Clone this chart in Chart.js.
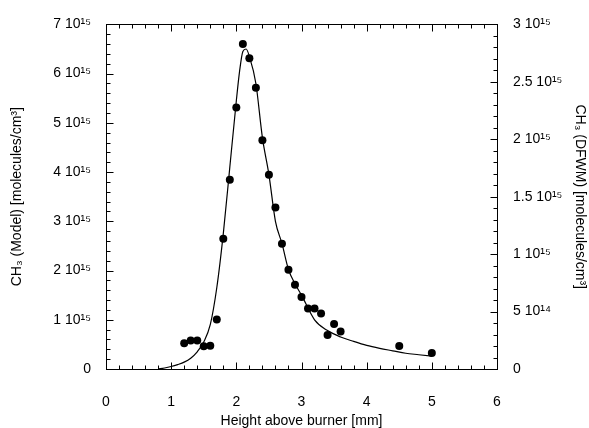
<!DOCTYPE html>
<html>
<head>
<meta charset="utf-8">
<script src="https://cdn.jsdelivr.net/npm/chart.js@4.4.1/dist/chart.umd.min.js"></script>
<style>
  body { margin: 0; background: #fff; }
  canvas { display: block; }
</style>
</head>
<body>
<canvas id="chartCH3" width="589" height="428"></canvas>
<script>
// valores em unidades de 1e15 moleculas/cm3

// curva do modelo (eixo esquerdo)
const alturaModelo = [0.8, 0.9, 1.0, 1.1, 1.2, 1.3, 1.4, 1.5, 1.6, 1.7, 1.8, 1.9, 2.0, 2.05, 2.1, 2.15, 2.2, 2.3, 2.4, 2.5, 2.6, 2.7, 2.8, 2.9, 3.0, 3.2, 3.4, 3.6, 3.8, 4.0, 4.2, 4.4, 4.6, 4.8, 5.0];
const ch3Modelo = [0.0, 0.02, 0.05, 0.09, 0.14, 0.22, 0.35, 0.55, 0.9, 1.65, 2.75, 4.1, 5.45, 6.05, 6.45, 6.5, 6.35, 5.8, 4.7, 3.95, 3.0, 2.55, 2.02, 1.73, 1.5, 1.0, 0.78, 0.65, 0.56, 0.48, 0.42, 0.37, 0.32, 0.29, 0.26];

// medidas DFWM (eixo direito)
const alturaDFWM = [1.2, 1.3, 1.4, 1.5, 1.6, 1.7, 1.8, 1.9, 2.0, 2.1, 2.2, 2.3, 2.4, 2.5, 2.6, 2.7, 2.8, 2.9, 3.0, 3.1, 3.2, 3.3, 3.4, 3.5, 3.6, 4.5, 5.0];
const ch3DFWM = [0.225, 0.249, 0.249, 0.197, 0.203, 0.431, 1.134, 1.648, 2.277, 2.829, 2.706, 2.449, 1.991, 1.691, 1.406, 1.091, 0.863, 0.734, 0.626, 0.526, 0.526, 0.483, 0.297, 0.392, 0.326, 0.2, 0.14];

// rotulos dos eixos
const rotulosX = ['0', '1', '2', '3', '4', '5', '6'];
const rotulosEsq = ['0', '1 10¹⁵', '2 10¹⁵', '3 10¹⁵', '4 10¹⁵', '5 10¹⁵', '6 10¹⁵', '7 10¹⁵'];
const rotulosDir = ['0', '5 10¹⁴', '1 10¹⁵', '1.5 10¹⁵', '2 10¹⁵', '2.5 10¹⁵', '3 10¹⁵'];

const FONTE = { family: "'Liberation Sans', Arial, sans-serif", size: 14 };
const FONTE_TITULO = { family: "'Liberation Sans', Arial, sans-serif", size: 14, lineHeight: 1 };

// moldura + marcas de escala voltadas para dentro
const marcasInternas = {
    id: 'marcasInternas',
    afterDraw(chart) {
        const { ctx, chartArea: a, scales } = chart;
        ctx.save();
        ctx.strokeStyle = '#000';
        ctx.lineWidth = 1;
        const seg = (x1, y1, x2, y2) => {
            ctx.beginPath();
            ctx.moveTo(x1, y1);
            ctx.lineTo(x2, y2);
            ctx.stroke();
        };
        const L = Math.round(a.left) + 0.5, R = Math.round(a.right) + 0.5;
        const T = Math.round(a.top) + 0.5, B = Math.round(a.bottom) + 0.5;
        ctx.strokeRect(L, T, R - L, B - T);

        for (let i = 0; i <= 30; i++) {
            const px = Math.round(scales.x.getPixelForValue(i * 0.2)) + 0.5;
            const len = i % 5 === 0 ? 7 : 4;
            seg(px, B, px, B - len);
            seg(px, T, px, T + len);
        }
        for (let i = 0; i <= 35; i++) {
            const py = Math.round(scales.y.getPixelForValue(i * 0.2)) + 0.5;
            seg(L, py, L + (i % 5 === 0 ? 7 : 4), py);
        }
        for (let i = 0; i <= 30; i++) {
            const py = Math.round(scales.y2.getPixelForValue(i * 0.1)) + 0.5;
            seg(R, py, R - (i % 5 === 0 ? 7 : 4), py);
        }
        ctx.restore();
    }
};

const ctx = document.getElementById('chartCH3').getContext('2d');
new Chart(ctx, {
    type: 'scatter',
    data: {
        datasets: [
            {
                label: 'Model',
                data: alturaModelo.map((x, i) => ({ x: x, y: ch3Modelo[i] })),
                yAxisID: 'y',
                showLine: true,
                borderColor: '#000',
                borderWidth: 1.2,
                pointRadius: 0,
                cubicInterpolationMode: 'monotone',
                fill: false
            },
            {
                label: 'DFWM',
                data: alturaDFWM.map((x, i) => ({ x: x, y: ch3DFWM[i] })),
                yAxisID: 'y2',
                showLine: false,
                pointRadius: 4,
                backgroundColor: '#000',
                borderColor: '#000',
                borderWidth: 0
            }
        ]
    },
    options: {
        responsive: false,
        animation: false,
        layout: { padding: { top: 19, left: 0, right: 0, bottom: 0 } },
        plugins: { legend: { display: false }, tooltip: { enabled: false } },
        scales: {
            x: {
                type: 'linear', min: 0, max: 6,
                grid: { display: false, drawTicks: false },
                border: { display: false },
                afterFit: s => { s.height = 59; },
                ticks: {
                    stepSize: 1, padding: 25, color: '#000', font: FONTE,
                    maxRotation: 0,
                    callback: (v, i) => rotulosX[i]
                },
                title: {
                    display: true, text: 'Height above burner [mm]',
                    color: '#000', font: FONTE_TITULO, padding: { top: 0, bottom: 0 }
                }
            },
            y: {
                type: 'linear', position: 'left', min: 0, max: 7,
                grid: { display: false, drawTicks: false },
                border: { display: false },
                afterFit: s => { s.width = 106; },
                ticks: {
                    stepSize: 1, padding: 15, color: '#000', font: FONTE,
                    callback: (v, i) => rotulosEsq[i]
                },
                title: {
                    display: true, text: 'CH₃ (Model) [molecules/cm³]',
                    color: '#000', font: FONTE_TITULO, padding: { top: 10, bottom: 0 }
                }
            },
            y2: {
                type: 'linear', position: 'right', min: 0, max: 3,
                grid: { display: false, drawTicks: false },
                border: { display: false },
                afterFit: s => { s.width = 92; },
                ticks: {
                    stepSize: 0.5, padding: 16, color: '#000', font: FONTE,
                    callback: (v, i) => rotulosDir[i]
                },
                title: {
                    display: true, text: 'CH₃ (DFWM) [molecules/cm³]',
                    color: '#000', font: FONTE_TITULO, padding: { top: 2, bottom: 0 }
                }
            }
        }
    },
    plugins: [marcasInternas]
});
</script>
</body>
</html>
